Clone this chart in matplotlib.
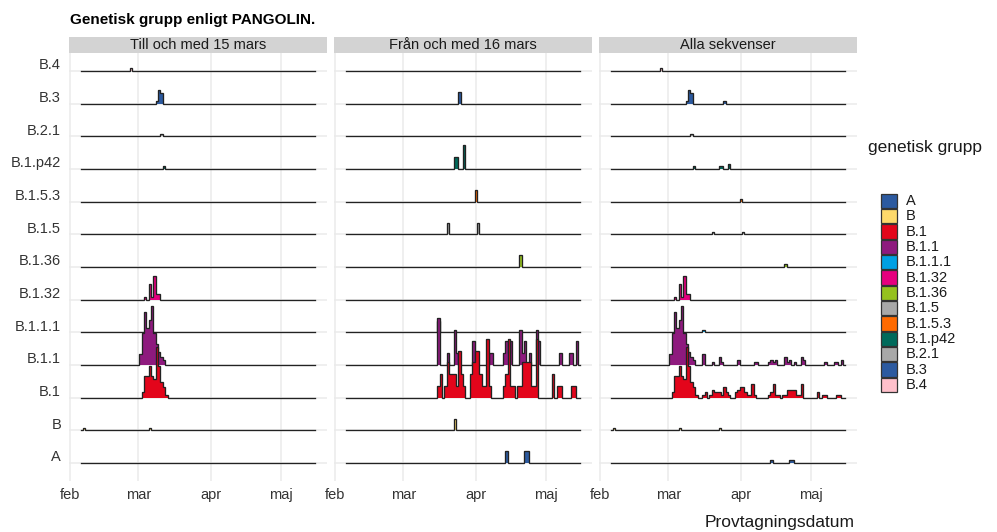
import numpy as np
import pandas as pd
import matplotlib
matplotlib.use("Agg")
import matplotlib.pyplot as plt
import matplotlib.dates as mdates
from matplotlib.patches import Rectangle

plt.rcParams['font.family'] = ['Liberation Sans', 'DejaVu Sans']

lineages = ["A", "B", "B.1", "B.1.1", "B.1.1.1", "B.1.32", "B.1.36",
            "B.1.5", "B.1.5.3", "B.1.p42", "B.2.1", "B.3", "B.4"]
colors = ["#2C5AA0", "#FDD96B", "#E3051B", "#8E1A7E", "#00A0E3", "#E5007E",
          "#95C11F", "#A8A8A8", "#FF6A00", "#006A5B", "#A8A8A8", "#2C5AA0",
          "#FFC0CB"]

# sequences per sampling date (MM-DD, 2020), up to and including 15 March
early = {
    "B": {"02-07": 1, "03-06": 1},
    "B.1": {"03-03": 2, "03-04": 8, "03-05": 8, "03-06": 12, "03-07": 8,
            "03-08": 7, "03-09": 19, "03-10": 12, "03-11": 6, "03-12": 4,
            "03-13": 1},
    "B.1.1": {"03-02": 4, "03-03": 12, "03-04": 20, "03-05": 14, "03-06": 17,
              "03-07": 22, "03-08": 12, "03-09": 8, "03-10": 5, "03-11": 3,
              "03-12": 2},
    "B.1.32": {"03-04": 1, "03-06": 6, "03-07": 1, "03-08": 9, "03-09": 2,
               "03-10": 2},
    "B.1.p42": {"03-12": 1},
    "B.2.1": {"03-11": 1},
    "B.3": {"03-09": 1, "03-10": 5, "03-11": 4},
    "B.4": {"02-27": 1},
}

# sequences per sampling date from 16 March onwards
late = {
    "A": {"04-14": 1, "04-22": 1, "04-23": 1},
    "B": {"03-23": 1},
    "B.1": {"03-16": 1, "03-17": 2, "03-19": 1, "03-20": 3, "03-21": 2,
            "03-22": 2, "03-23": 2, "03-24": 1, "03-25": 4, "03-26": 2,
            "03-27": 1, "03-30": 2, "03-31": 3, "04-01": 4, "04-02": 4,
            "04-03": 2, "04-04": 1, "04-05": 1, "04-06": 5, "04-07": 1,
            "04-13": 1, "04-14": 2, "04-15": 5, "04-16": 1, "04-17": 1,
            "04-19": 1, "04-20": 1, "04-21": 3, "04-22": 3, "04-23": 3,
            "04-24": 3, "04-25": 1, "04-26": 1, "04-27": 5, "05-04": 2,
            "05-06": 1, "05-07": 1, "05-12": 1, "05-13": 1},
    "B.1.1": {"03-16": 4, "03-20": 1, "03-23": 3, "03-24": 1, "03-31": 2,
              "04-07": 1, "04-08": 1, "04-13": 1, "04-14": 2, "04-15": 1,
              "04-16": 2, "04-20": 3, "04-21": 1, "04-22": 2, "04-24": 1,
              "04-27": 3, "04-28": 2, "05-07": 1, "05-11": 1, "05-12": 1,
              "05-14": 2},
    "B.1.1.1": {"03-16": 1},
    "B.1.36": {"04-20": 1},
    "B.1.5": {"03-20": 1, "04-02": 1},
    "B.1.5.3": {"04-01": 1},
    "B.1.p42": {"03-23": 1, "03-24": 1, "03-27": 2},
    "B.3": {"03-25": 1},
}

panel_titles = ["Till och med 15 mars", "Från och med 16 mars", "Alla sekvenser"]
month_starts = ["2020-02-01", "2020-03-01", "2020-04-01", "2020-05-01"]
month_labels = ["feb", "mar", "apr", "maj"]


def to_series(d):
    s = pd.Series(d, dtype=float)
    s.index = mdates.date2num(pd.to_datetime("2020-" + s.index))
    return s


def combine(a, b):
    out = {}
    for name in lineages:
        sa = to_series(a.get(name, {})) if name in a else pd.Series(dtype=float)
        sb = to_series(b.get(name, {})) if name in b else pd.Series(dtype=float)
        out[name] = sa.add(sb, fill_value=0)
    return out


panels = [
    {n: to_series(early[n]) if n in early else pd.Series(dtype=float) for n in lineages},
    {n: to_series(late[n]) if n in late else pd.Series(dtype=float) for n in lineages},
    combine(early, late),
]

# one-day bins over the full date range, padded by an empty bin each side
all_days = np.concatenate([s.index.values for s in panels[2].values() if len(s)])
edges = np.arange(all_days.min() - 1.5, all_days.max() + 2.0, 1.0)
span = edges[-1] - edges[0]
xlim = (edges[0] - 0.05 * span, edges[-1] + 0.05 * span)
scale = 1.8

W, H = 997, 532
fig = plt.figure(figsize=(W / 100, H / 100), dpi=100)


def fx(x):
    return x / W


def fy(y):
    return 1 - y / H


lefts = [69, 334, 599]
pw = 258
top, bottom = 53, 481
rows = np.arange(len(lineages))
ticks = mdates.date2num(pd.to_datetime(month_starts))

for p, (data, left) in enumerate(zip(panels, lefts)):
    ax = fig.add_axes([fx(left), fy(bottom), pw / W, (bottom - top) / H])
    hists = {n: np.histogram(data[n].index.values, bins=edges,
                             weights=data[n].values)[0] for n in lineages}
    peak = max(h.max() for h in hists.values())
    xs = np.repeat(edges, 2)[1:-1]
    for r in rows[::-1]:
        name = lineages[r]
        h = hists[name] / peak * scale
        ys = np.repeat(h, 2)
        z = 2 * (len(lineages) - r) + 2
        ax.fill_between(xs, r, r + ys, color=colors[r], lw=0, zorder=z)
        ax.plot(xs, r + ys, color="#222222", lw=0.95, zorder=z + 1,
                solid_joinstyle="miter")
    ax.set_xlim(*xlim)
    ax.set_ylim(-0.55, 12.55)
    ax.set_xticks(ticks)
    ax.set_xticklabels(month_labels, fontsize=10.5, color="#333333")
    ax.set_yticks(rows)
    ax.set_yticklabels([])
    ax.tick_params(length=0, pad=5)
    ax.grid(True, color="#EBEBEB", lw=1.1, zorder=0)
    ax.set_axisbelow(True)
    for s in ax.spines.values():
        s.set_visible(False)
    if p == 0:
        for r in rows:
            ax.text(-8 / pw, r + 0.17, lineages[r], transform=ax.get_yaxis_transform(),
                    ha="right", va="center", fontsize=10.5, color="#333333")
    # facet strip
    fig.add_artist(Rectangle((fx(left), fy(top)), pw / W, 16 / H,
                             transform=fig.transFigure, color="#D3D3D3", lw=0))
    fig.text(fx(left + pw / 2), fy(45), panel_titles[p], ha="center", va="center",
             fontsize=10.5, color="#1A1A1A")

fig.text(fx(70), fy(20), "Genetisk grupp enligt PANGOLIN.", ha="left", va="center",
         fontsize=11, fontweight="bold")
fig.text(fx(855), fy(522), "Provtagningsdatum", ha="right", va="center",
         fontsize=12.5, color="#1A1A1A")

# legend
fig.text(fx(868), fy(147), "genetisk grupp", ha="left", va="center",
         fontsize=12.5, color="#1A1A1A")
step = 15.33
for i, name in enumerate(lineages):
    yc = 201 + i * step
    fig.add_artist(Rectangle((fx(881), fy(yc + step / 2 - 0.5)), 16 / W, (step - 1) / H,
                             transform=fig.transFigure, facecolor=colors[i],
                             edgecolor="#333333", lw=0.9))
    fig.text(fx(906), fy(yc), name, ha="left", va="center", fontsize=10.5,
             color="#1A1A1A")

fig.savefig("out.png", dpi=100)
